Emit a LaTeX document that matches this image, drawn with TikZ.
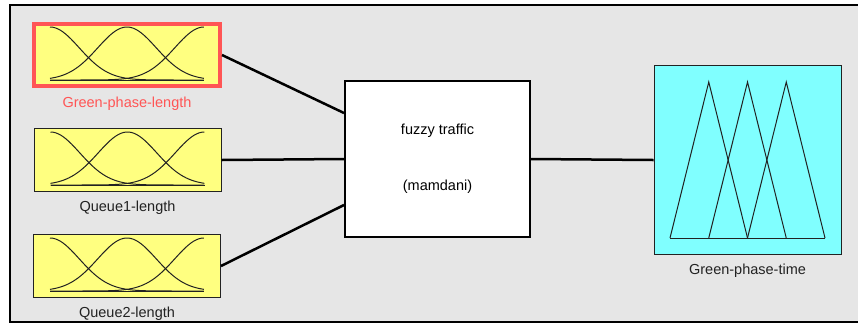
\documentclass[tikz,border=0pt]{standalone}
\usepackage{fontspec}
\setmainfont{Liberation Sans}
\usepackage{tikz}
\usetikzlibrary{positioning, calc}

\definecolor{panelgray}{HTML}{E6E6E6}
\definecolor{mfyellow}{HTML}{FFFF80}
\definecolor{mfcyan}{HTML}{80FFFF}
\definecolor{selred}{HTML}{FF5555}
\definecolor{inkgray}{HTML}{222222}

\begin{document}
\begin{tikzpicture}[x=1pt, y=-1pt, thick, font=\fontsize{14.5}{17}\selectfont]
        % Define block styles
        \tikzstyle{mfbox} = [rectangle, draw=inkgray, line width=1pt, fill=mfyellow, minimum width=187pt, minimum height=63pt, inner sep=0pt]
        \tikzstyle{outbox} = [mfbox, fill=mfcyan, minimum height=189pt]
        \tikzstyle{fisbox} = [rectangle, draw=black, line width=2pt, fill=white, minimum width=185pt, minimum height=156pt, align=center]
        \tikzstyle{varlabel} = [text=inkgray, inner sep=0pt, node distance=9pt]
        \tikzstyle{link} = [line width=2.5pt, black]
        \tikzstyle{mf} = [line width=1pt, inkgray]

        \useasboundingbox (0,0) rectangle (858,325);

        % Panel
        \fill[panelgray] (10,5) rectangle (858,322);
        \draw[line width=2.5pt] (858,5) -- (10,5) -- (10,322) -- (858,322);

        % Place nodes
        \node [mfbox, draw=selred, line width=4pt, minimum width=186pt, minimum height=62pt] (green_length) at (127,55) {};
        \node [mfbox] (queue1) at (127.5,160) {};
        \node [mfbox] (queue2) at (127,266) {};
        \node [fisbox] (fis) at (437.5,159) {fuzzy traffic\\[39pt](mamdani)};
        \node [outbox] (green_time) at (747.5,160) {};

        % Add names under the variables
        \node [varlabel, text=selred, below=of green_length] (green_length_lbl) {Green-phase-length};
        \node [varlabel, below=of queue1] (queue1_lbl) {Queue1-length};
        \node [varlabel, below=of queue2] (queue2_lbl) {Queue2-length};
        \node [varlabel, below=of green_time] (green_time_lbl) {Green-phase-time};

        % Membership functions of the inputs
        \foreach \v in {green_length, queue1, queue2} {
            \begin{scope}[shift={(\v.center)}]
                \draw [mf] (-77,25) -- (77,25);
                \foreach \c in {0, 0.5, 1}
                    \draw [mf, domain=0:1, samples=60, smooth] plot ({-77+154*\x}, {25-53*exp(-((\x-\c)^2)/0.0722)});
            \end{scope}
        }

        % Membership functions of the output
        \begin{scope}[shift={(green_time.center)}]
            \draw [mf] (-77.5,78) -- (77.5,78);
            \foreach \k in {0, 1, 2}
                \draw [mf] ({-77.5+38.75*\k},78) -- ({-38.75+38.75*\k},-78) -- ({38.75*\k},78);
        \end{scope}

        % Draw connections
        \draw [link] (green_length.east) -- ([yshift=46pt]fis.west);
        \draw [link] (queue1.east) -- (fis.west);
        \draw [link] (queue2.east) -- ([yshift=-46pt]fis.west);
        \draw [link] (fis.east) -- (green_time.west);
\end{tikzpicture}
\end{document}
